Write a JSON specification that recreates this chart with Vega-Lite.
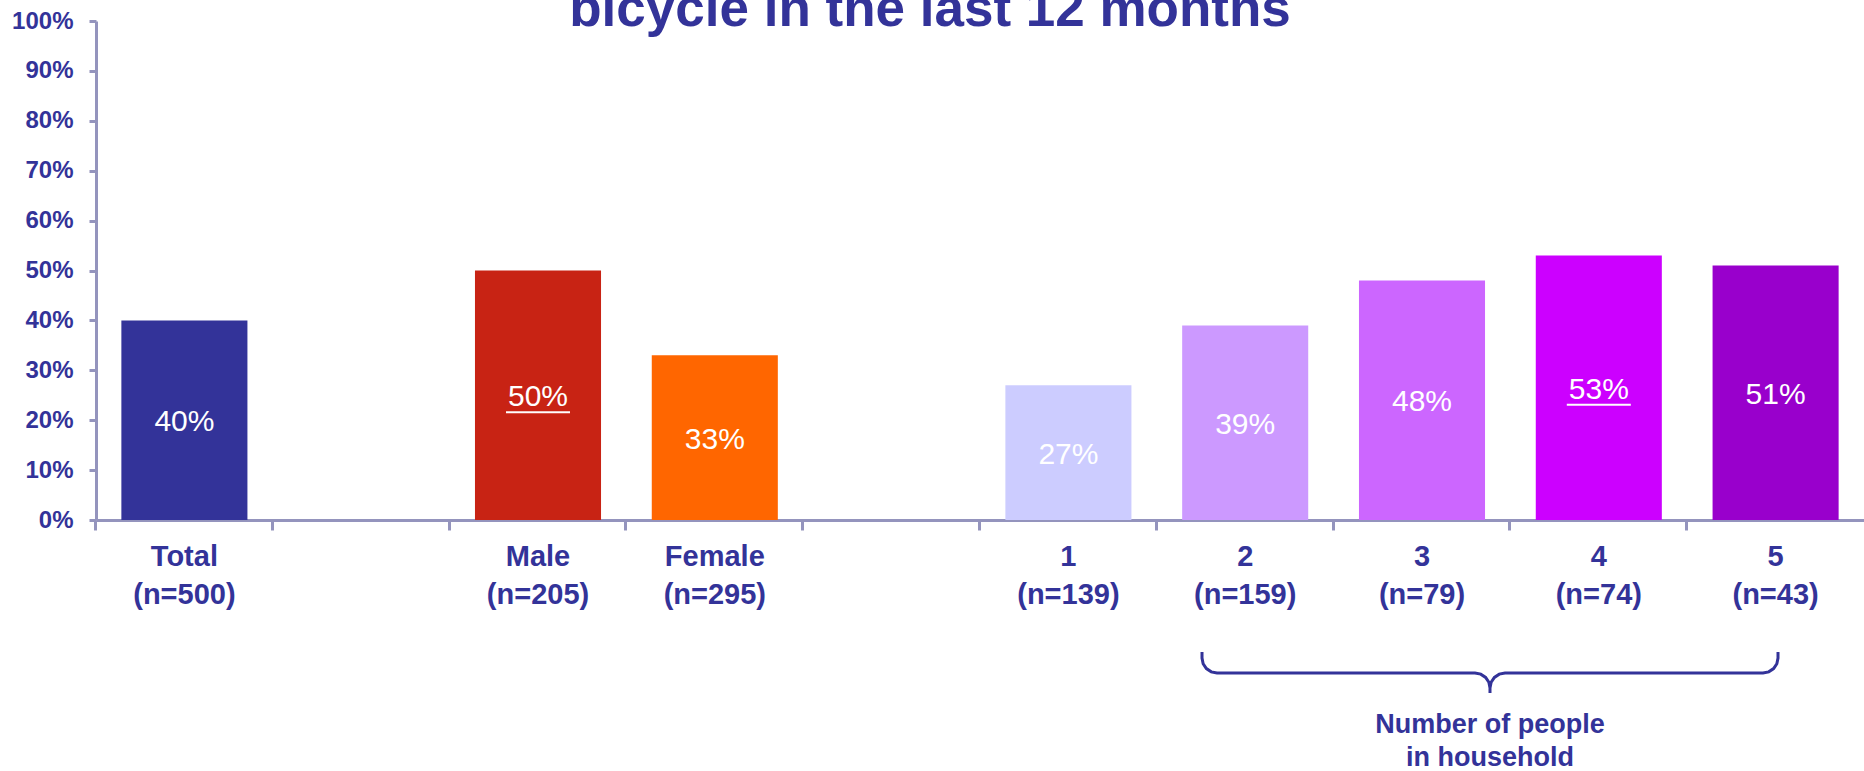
{
  "$schema": "https://vega.github.io/schema/vega-lite/v6.json",
  "width": 1768,
  "height": 499,
  "autosize": {"type": "none"},
  "padding": {"left": 96, "top": 21, "right": 0, "bottom": 251},
  "background": "white",
  "config": {"view": {"stroke": null}, "font": "Liberation Sans"},
  "title": {
    "text": "bicycle in the last 12 months",
    "fontSize": 53,
    "fontWeight": "bold",
    "color": "#333399",
    "font": "Liberation Sans",
    "anchor": "middle",
    "frame": "group",
    "dx": -50,
    "baseline": "alphabetic",
    "offset": -70
  },
  "datasets": {
    "bars": [
      {"cat": "Total (n=500)", "value": 0.40},
      {"cat": "Male (n=205)", "value": 0.50},
      {"cat": "Female (n=295)", "value": 0.33},
      {"cat": "1 (n=139)", "value": 0.27},
      {"cat": "2 (n=159)", "value": 0.39},
      {"cat": "3 (n=79)", "value": 0.48},
      {"cat": "4 (n=74)", "value": 0.53},
      {"cat": "5 (n=43)", "value": 0.51}
    ],
    "brace": [
      {"i": 1, "u": 6.2557, "v": -0.2645},
      {"i": 2, "u": 6.2557, "v": -0.2766},
      {"i": 3, "u": 6.2621, "v": -0.2881},
      {"i": 4, "u": 6.2805, "v": -0.2978},
      {"i": 5, "u": 6.3080, "v": -0.3043},
      {"i": 6, "u": 6.3405, "v": -0.3066},
      {"i": 7, "u": 7.7998, "v": -0.3066},
      {"i": 8, "u": 7.8322, "v": -0.3089},
      {"i": 9, "u": 7.8598, "v": -0.3154},
      {"i": 10, "u": 7.8782, "v": -0.3252},
      {"i": 11, "u": 7.8846, "v": -0.3367},
      {"i": 12, "u": 7.8846, "v": -0.3467},
      {"i": 13, "u": 7.8846, "v": -0.3367},
      {"i": 14, "u": 7.8911, "v": -0.3252},
      {"i": 15, "u": 7.9095, "v": -0.3154},
      {"i": 16, "u": 7.9370, "v": -0.3089},
      {"i": 17, "u": 7.9695, "v": -0.3066},
      {"i": 18, "u": 9.4287, "v": -0.3066},
      {"i": 19, "u": 9.4612, "v": -0.3043},
      {"i": 20, "u": 9.4887, "v": -0.2978},
      {"i": 21, "u": 9.5071, "v": -0.2881},
      {"i": 22, "u": 9.5136, "v": -0.2766},
      {"i": 23, "u": 9.5136, "v": -0.2645}
    ],
    "note": [
      {"u": 7.8846, "v": -0.4108, "text": "Number of people\nin household"}
    ]
  },
  "layer": [
    {
      "data": {"name": "bars"},
      "mark": {"type": "bar"},
      "encoding": {
        "x": {
          "field": "cat", "type": "nominal", "sort": null,
          "scale": {
            "domain": ["Total (n=500)", "gap1", "Male (n=205)", "Female (n=295)", "gap2", "1 (n=139)", "2 (n=159)", "3 (n=79)", "4 (n=74)", "5 (n=43)"],
            "paddingInner": 0.287, "paddingOuter": 0.1435
          },
          "axis": {
            "title": null,
            "bandPosition": -0.2047,
            "labelExpr": "indexof(datum.value,'gap')==0 ? '' : split(datum.value,' ')",
            "labelAngle": 0,
            "labelFontSize": 29,
            "labelFontWeight": "bold",
            "labelColor": "#333399",
            "labelFont": "Liberation Sans",
            "labelLineHeight": 38,
            "labelPadding": 12,
            "tickSize": 10,
            "tickWidth": 3,
            "tickColor": "#9494BD",
            "domainColor": "#9494BD",
            "domainWidth": 3,
            "grid": false
          }
        },
        "y": {
          "field": "value", "type": "quantitative",
          "scale": {"domain": [0, 1], "nice": false},
          "axis": {
            "title": null,
            "values": [0, 0.1, 0.2, 0.3, 0.4, 0.5, 0.6, 0.7, 0.8, 0.9, 1],
            "format": ".0%",
            "labelFontSize": 24,
            "labelFontWeight": "bold",
            "labelColor": "#333399",
            "labelFont": "Liberation Sans",
            "labelPadding": 16,
            "tickSize": 7,
            "tickWidth": 3,
            "tickColor": "#9494BD",
            "domainColor": "#9494BD",
            "domainWidth": 3,
            "grid": false
          }
        },
        "color": {
          "field": "cat", "type": "nominal",
          "scale": {
            "domain": ["Total (n=500)", "Male (n=205)", "Female (n=295)", "1 (n=139)", "2 (n=159)", "3 (n=79)", "4 (n=74)", "5 (n=43)"],
            "range": ["#333399", "#C82314", "#FF6600", "#CCCCFF", "#CC99FF", "#CC66FF", "#CC00FF", "#9900CC"]
          },
          "legend": null
        }
      }
    },
    {
      "data": {"name": "bars"},
      "mark": {"type": "text", "color": "white", "fontSize": 30, "baseline": "middle", "font": "Liberation Sans", "dy": 2},
      "encoding": {
        "x": {
          "field": "cat", "type": "nominal", "sort": null,
          "scale": {
            "domain": ["Total (n=500)", "gap1", "Male (n=205)", "Female (n=295)", "gap2", "1 (n=139)", "2 (n=159)", "3 (n=79)", "4 (n=74)", "5 (n=43)"],
            "paddingInner": 0.287, "paddingOuter": 0.1435
          },
          "axis": null
        },
        "y": {"field": "value", "type": "quantitative", "scale": {"domain": [0, 2], "nice": false}, "axis": null},
        "text": {"field": "value", "type": "quantitative", "format": ".0%"}
      }
    },
    {
      "data": {"name": "bars"},
      "transform": [{"filter": "datum.cat == 'Male (n=205)' || datum.cat == '4 (n=74)'"}],
      "mark": {"type": "rule", "color": "white", "strokeWidth": 2, "xOffset": -32, "x2Offset": 32, "yOffset": 17},
      "encoding": {
        "x": {
          "field": "cat", "type": "nominal", "sort": null,
          "scale": {
            "domain": ["Total (n=500)", "gap1", "Male (n=205)", "Female (n=295)", "gap2", "1 (n=139)", "2 (n=159)", "3 (n=79)", "4 (n=74)", "5 (n=43)"],
            "paddingInner": 0.287, "paddingOuter": 0.1435
          },
          "axis": null
        },
        "x2": {"field": "cat"},
        "y": {"field": "value", "type": "quantitative", "scale": {"domain": [0, 2], "nice": false}, "axis": null}
      }
    },
    {
      "data": {"name": "brace"},
      "mark": {"type": "line", "color": "#333399", "strokeWidth": 3, "clip": false},
      "encoding": {
        "x": {"field": "u", "type": "quantitative", "scale": {"domain": [0, 10], "nice": false, "zero": false}, "axis": null},
        "y": {"field": "v", "type": "quantitative", "scale": {"domain": [0, 1], "nice": false, "zero": false}, "axis": null},
        "order": {"field": "i", "type": "quantitative"}
      }
    },
    {
      "data": {"name": "note"},
      "mark": {"type": "text", "color": "#333399", "fontSize": 27, "fontWeight": "bold", "font": "Liberation Sans", "lineBreak": "\n", "lineHeight": 33, "baseline": "middle", "align": "center"},
      "encoding": {
        "x": {"field": "u", "type": "quantitative", "scale": {"domain": [0, 10], "nice": false, "zero": false}, "axis": null},
        "y": {"field": "v", "type": "quantitative", "scale": {"domain": [0, 1], "nice": false, "zero": false}, "axis": null},
        "text": {"field": "text"}
      }
    }
  ],
  "resolve": {"scale": {"x": "independent", "y": "independent", "color": "independent"}}
}
